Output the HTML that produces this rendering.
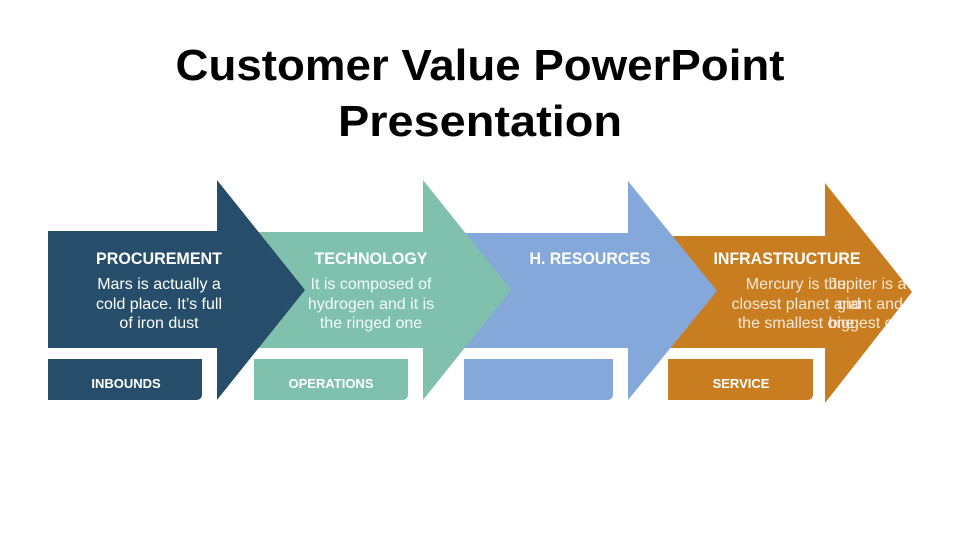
<!DOCTYPE html>
<html><head><meta charset="utf-8"><style>
html,body{margin:0;padding:0;background:#fff;}
svg{display:block;}
text{font-family:"Liberation Sans",sans-serif;}
</style></head><body>
<svg width="960" height="540" viewBox="0 0 960 540" xmlns="http://www.w3.org/2000/svg">
<defs>
<clipPath id="c4"><polygon points="668,236 825,236 825,183 912,292 825,403 825,348 668,348"/></clipPath>
</defs>
<text x="480" y="80" text-anchor="middle" font-size="44" font-weight="bold" textLength="609" lengthAdjust="spacingAndGlyphs" fill="#000">Customer Value PowerPoint</text>
<text x="480" y="136" text-anchor="middle" font-size="44" font-weight="bold" textLength="284" lengthAdjust="spacingAndGlyphs" fill="#000">Presentation</text>

<polygon points="668,236 825,236 825,183 912,292 825,403 825,348 668,348" fill="#c87d21"/>
<path d="M668,359 H813 V394 Q813,400 807,400 H668 Z" fill="#c87d21"/>
<polygon points="464,233 628,233 628,181 717,291 628,400 628,348 464,348" fill="#84a8d9"/>
<path d="M464,359 H613 V394 Q613,400 607,400 H464 Z" fill="#84a8d9"/>
<polygon points="255,232 423,232 423,180 511,290 423,400 423,348 255,348" fill="#7fc1ad"/>
<path d="M254,359 H408 V394 Q408,400 402,400 H254 Z" fill="#7fc1ad"/>
<polygon points="48,231 217,231 217,180 305,290 217,400 217,348 48,348" fill="#264d69"/>
<path d="M48,359 H202 V394 Q202,400 196,400 H48 Z" fill="#264d69"/>

<g fill="#fff" text-anchor="middle">
<text x="159" y="264" font-size="17" font-weight="bold" textLength="126" lengthAdjust="spacingAndGlyphs">PROCUREMENT</text>
<text x="159" y="289" font-size="16">Mars is actually a</text>
<text x="159" y="309" font-size="16">cold place. It’s full</text>
<text x="159" y="328" font-size="16">of iron dust</text>

<text x="371" y="264" font-size="17" font-weight="bold" textLength="113" lengthAdjust="spacingAndGlyphs">TECHNOLOGY</text>
<text x="371" y="289" font-size="16" fill="#f4faf8">It is composed of</text>
<text x="371" y="309" font-size="16" fill="#f4faf8">hydrogen and it is</text>
<text x="371" y="328" font-size="16" fill="#f4faf8">the ringed one</text>

<text x="590" y="264" font-size="17" font-weight="bold" textLength="121" lengthAdjust="spacingAndGlyphs">H. RESOURCES</text>

<text x="787" y="264" font-size="17" font-weight="bold" textLength="147" lengthAdjust="spacingAndGlyphs">INFRASTRUCTURE</text>
<g clip-path="url(#c4)" fill="#f6e8d6">
<text x="796" y="289" font-size="16">Mercury is the</text>
<text x="796" y="309" font-size="16">closest planet and</text>
<text x="796" y="328" font-size="16">the smallest one</text>
<text x="829" y="289" font-size="16" text-anchor="start">Jupiter is a</text>
<text x="870" y="309" font-size="16">giant and</text>
<text x="870" y="328" font-size="16">biggest one</text>
</g>

<text x="126" y="388" font-size="13" font-weight="bold">INBOUNDS</text>
<text x="331" y="388" font-size="13" font-weight="bold">OPERATIONS</text>
<text x="741" y="388" font-size="13" font-weight="bold">SERVICE</text>
</g>
</svg>
</body></html>
